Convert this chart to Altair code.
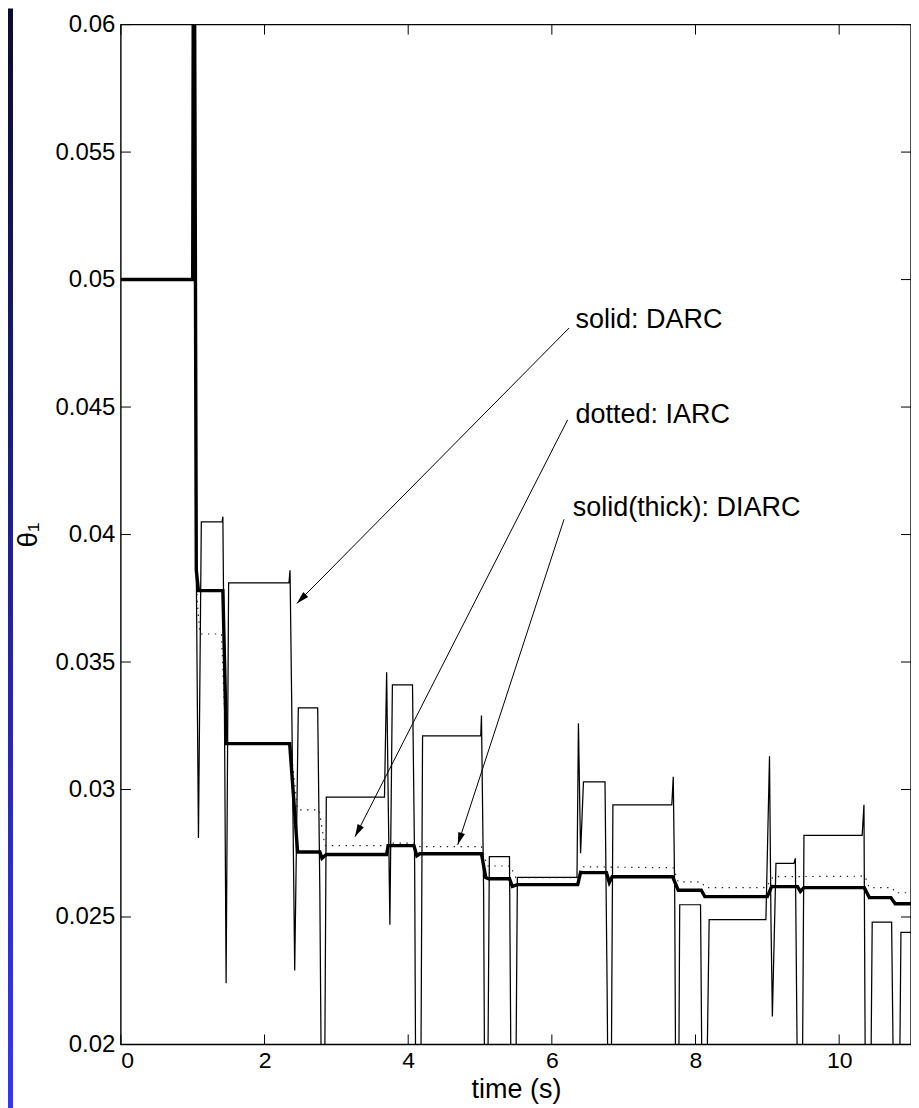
import altair as alt
import pandas as pd

W, H = 791, 1021
FONT = "Liberation Sans"

# ---- data ----
darc_t = [0, 1.0, 1.01, 1.05, 1.08, 1.12, 1.41, 1.42, 1.44, 1.465, 1.50, 2.34, 2.355, 2.38, 2.42, 2.47,
          2.74, 2.77, 2.80, 2.83, 2.86, 3.67, 3.70, 3.72, 3.745, 3.78, 4.06, 4.09, 4.11, 4.17, 4.20,
          5.01, 5.02, 5.05, 5.07, 5.10, 5.13, 5.41, 5.44, 5.49, 5.52, 6.35, 6.37, 6.40, 6.44, 6.74,
          6.77, 6.79, 6.82, 6.85, 7.67, 7.69, 7.71, 7.73, 7.76, 7.78, 8.07, 8.10, 8.14, 8.19, 8.98,
          9.03, 9.05, 9.07, 9.12, 9.37, 9.39, 9.43, 9.48, 9.51, 10.32, 10.345, 10.37, 10.43, 10.46,
          10.73, 10.77, 10.83, 10.86, 11.0]
darc_v = [0.05, 0.05, 0.072, 0.0385, 0.0281, 0.0405, 0.0405, 0.0407, 0.034, 0.0224, 0.0381, 0.0381, 0.0386, 0.033, 0.0229, 0.0332,
          0.0332, 0.026, 0.015, 0.015, 0.0297, 0.0297, 0.0346, 0.030, 0.0247, 0.0341, 0.0341, 0.027, 0.015, 0.015, 0.0321,
          0.0321, 0.0329, 0.026, 0.015, 0.015, 0.02737, 0.02737, 0.015, 0.015, 0.02655, 0.02655, 0.0326, 0.0275, 0.0303, 0.0303,
          0.022, 0.015, 0.015, 0.0294, 0.0294, 0.0305, 0.026, 0.015, 0.015, 0.02548, 0.02548, 0.015, 0.015, 0.0249, 0.0249,
          0.0313, 0.025, 0.0211, 0.0271, 0.0271, 0.0273, 0.015, 0.015, 0.0282, 0.0282, 0.0294, 0.015, 0.015, 0.0248,
          0.0248, 0.015, 0.015, 0.0244, 0.0244]

iarc_t = [0, 1.0, 1.015, 1.06, 1.10, 1.40, 1.46, 1.50, 2.36, 2.46, 2.76, 2.84, 3.70, 3.73, 4.08, 4.16,
          5.02, 5.10, 5.42, 5.50, 6.36, 6.42, 7.69, 7.76, 8.08, 8.14, 8.98, 9.08, 10.36, 10.42, 10.74, 10.78, 11.0]
iarc_v = [0.05, 0.05, 0.07, 0.0375, 0.0361, 0.0361, 0.032, 0.0318, 0.0318, 0.0292, 0.0292, 0.0278, 0.0278, 0.0279, 0.0279, 0.02776,
          0.02776, 0.0270, 0.0270, 0.02654, 0.02654, 0.02697, 0.02693, 0.02638, 0.02638, 0.02615, 0.02615, 0.02658, 0.0266, 0.02615, 0.02615, 0.02595, 0.02595]

diarc_t = [0, 1.0, 1.015, 1.05, 1.08, 1.42, 1.47, 2.35, 2.46, 2.77, 2.80, 2.86, 3.70, 3.72, 4.08,
           4.12, 4.16, 5.02, 5.08, 5.12, 5.41, 5.45, 5.52, 6.36, 6.40, 6.43, 6.76, 6.80, 6.84, 7.68,
           7.76, 8.08, 8.13, 9.00, 9.06, 9.12, 9.42, 9.46, 9.51, 10.35, 10.42, 10.72, 10.78, 11.0]
diarc_v = [0.05, 0.05, 0.072, 0.0386, 0.0378, 0.0378, 0.0318, 0.0318, 0.02755, 0.02755, 0.0273, 0.02745, 0.02745, 0.0278, 0.0278,
           0.0274, 0.02748, 0.02748, 0.02655, 0.0265, 0.0265, 0.0262, 0.02627, 0.02627, 0.02675, 0.02674, 0.02674, 0.02635, 0.02658, 0.02658,
           0.02605, 0.02605, 0.0258, 0.0258, 0.0262, 0.02619, 0.02619, 0.0260, 0.02615, 0.02615, 0.02576, 0.02576, 0.02552, 0.02552]

x_ticks = [0, 2, 4, 6, 8, 10]
y_ticks = [0.02, 0.025, 0.03, 0.035, 0.04, 0.045, 0.05, 0.055, 0.06]

ann_text = ["solid: DARC", "dotted: IARC", "solid(thick): DIARC"]
ann_t = [6.33, 6.33, 6.29]
ann_v = [0.0484, 0.04468, 0.04105]
arr_t0 = [6.24, 6.22, 6.17]
arr_v0 = [0.0481, 0.0445, 0.0406]
arr_t1 = [2.45, 3.26, 4.69]
arr_v1 = [0.0373, 0.02815, 0.02783]
arr_angle = [225, 207, 198]

# ---- encodings ----
xs = alt.Scale(domain=[0, 11], nice=False, zero=False)
ys = alt.Scale(domain=[0.02, 0.06], nice=False, zero=False)

axis_common = dict(ticks=False, tickSize=0, domain=False, grid=False,
                   labelFont=FONT, labelColor="black", titleFont=FONT,
                   titleColor="black", titleFontWeight="normal")
xaxis = alt.Axis(values=x_ticks, labelFontSize=23, labelPadding=5, title="time (s)",
                 titleFontSize=27, titlePadding=4, **axis_common)
yaxis = alt.Axis(values=y_ticks, format=".3~f", labelFontSize=24, labelPadding=6, title="θ₁",
                 titleFontSize=28, titlePadding=12, **axis_common)


def X(f):
    return alt.X(f + ":Q", scale=xs, axis=xaxis)


def Y(f):
    return alt.Y(f + ":Q", scale=ys, axis=yaxis)


def series(t, v):
    return pd.DataFrame({"t": t, "v": v, "i": list(range(len(t)))})


one = alt.Data(values=[{"k": 1}])

strip = alt.Chart(one).mark_rect(
    fill=alt.LinearGradient(gradient="linear",
                            stops=[alt.GradientStop(color="#0b0b30", offset=0),
                                   alt.GradientStop(color="#3535ff", offset=1)],
                            x1=0, x2=0, y1=0, y2=1)
).encode(x=alt.value(-113), x2=alt.value(-108), y=alt.value(-16), y2=alt.value(H + 84))

darc = alt.Chart(series(darc_t, darc_v)).mark_line(
    color="black", strokeWidth=1.25, clip=True
).encode(x=X("t"), y=Y("v"), order="i:Q")

iarc = alt.Chart(series(iarc_t, iarc_v)).mark_line(
    color="#222222", strokeWidth=1.2, strokeDash=[1.4, 5.5], clip=True
).encode(x=X("t"), y=Y("v"), order="i:Q")

diarc = alt.Chart(series(diarc_t, diarc_v)).mark_line(
    color="black", strokeWidth=3.4, clip=True
).encode(x=X("t"), y=Y("v"), order="i:Q")

box = alt.Chart(one).mark_rect(filled=False, stroke="black", strokeWidth=1.4).encode(
    x=alt.value(0), x2=alt.value(W), y=alt.value(0), y2=alt.value(H))

ydf = pd.DataFrame({"v": y_ticks})
xdf = pd.DataFrame({"t": x_ticks})
tick_l = alt.Chart(ydf).mark_rule(color="black", strokeWidth=1).encode(
    y=Y("v"), x=alt.value(0), x2=alt.value(10))
tick_r = alt.Chart(ydf).mark_rule(color="black", strokeWidth=1).encode(
    y=Y("v"), x=alt.value(W - 10), x2=alt.value(W))
tick_b = alt.Chart(xdf).mark_rule(color="black", strokeWidth=1).encode(
    x=X("t"), y=alt.value(H - 10), y2=alt.value(H))
tick_t = alt.Chart(xdf).mark_rule(color="black", strokeWidth=1).encode(
    x=X("t"), y=alt.value(0), y2=alt.value(10))

adf = pd.DataFrame({"txt": ann_text, "t": ann_t, "v": ann_v,
                    "t0": arr_t0, "v0": arr_v0, "t1": arr_t1, "v1": arr_v1, "ang": arr_angle})

texts = alt.Chart(adf).mark_text(align="left", baseline="middle", font=FONT,
                                 fontSize=27, color="black").encode(
    x=X("t"), y=Y("v"), text="txt:N")

arrows = alt.Chart(adf).mark_rule(color="black", strokeWidth=1).encode(
    x=X("t0"), x2="t1:Q", y=Y("v0"), y2="v1:Q")

heads = alt.Chart(adf).mark_point(
    shape="M0,0L0.35,1.25L-0.35,1.25Z", size=400, filled=True,
    color="black", opacity=1, strokeWidth=0
).encode(x=X("t1"), y=Y("v1"), angle=alt.Angle("ang:Q", scale=None))

chart = alt.layer(
    strip, darc, iarc, diarc, box, tick_l, tick_r, tick_b, tick_t, arrows, heads, texts
).properties(
    width=W, height=H,
    autosize=alt.AutoSizeParams(type="none"),
    padding={"left": 113, "top": 16, "right": 0, "bottom": 84},
    background="white",
).configure_view(strokeWidth=0)

chart.save("out.html", embed_options={"renderer": "svg", "actions": False})
